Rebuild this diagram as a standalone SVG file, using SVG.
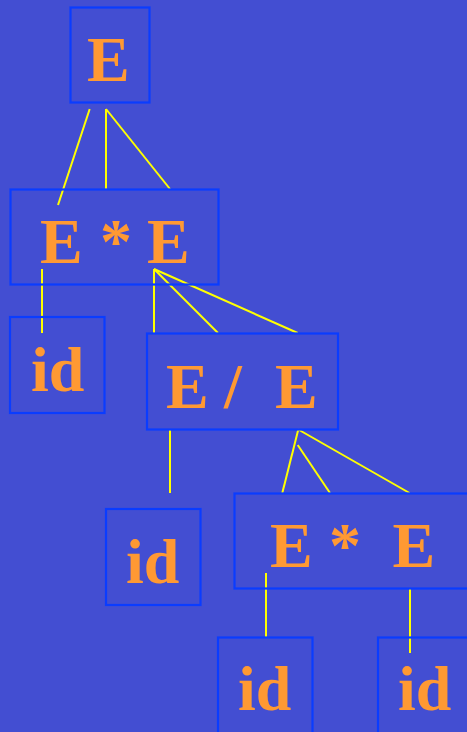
<svg xmlns="http://www.w3.org/2000/svg" width="467" height="732" viewBox="0 0 467 732">
  <style>
    .box { fill: none; stroke: #0A3CFF; stroke-width: 2.2; }
    .lbl { font-family: "Liberation Serif", "Times New Roman", serif; font-weight: bold; font-size: 64px; fill: #FF9933; }
    .edge { stroke: #FFFF00; stroke-width: 2; fill: none; }
  </style>
  <rect x="0" y="0" width="467" height="732" fill="#434ED2"/>

  <!-- parse-tree connectors -->
  <g id="connectors">
    <line class="edge" x1="89.7" y1="109" x2="58" y2="205"/>
    <line class="edge" x1="106" y1="109" x2="106" y2="189"/>
    <line class="edge" x1="106" y1="109" x2="170" y2="189"/>
    <line class="edge" x1="42" y1="269" x2="42" y2="333"/>
    <line class="edge" x1="154" y1="269" x2="154" y2="333"/>
    <line class="edge" x1="154" y1="269" x2="218" y2="333"/>
    <line class="edge" x1="154" y1="269" x2="297.7" y2="333"/>
    <line class="edge" x1="170" y1="429" x2="170" y2="493"/>
    <line class="edge" x1="298.3" y1="429.5" x2="282.3" y2="493"/>
    <line class="edge" x1="297.7" y1="445" x2="330" y2="493"/>
    <line class="edge" x1="298.3" y1="429.5" x2="409.5" y2="493"/>
    <line class="edge" x1="266" y1="573" x2="266" y2="637"/>
    <line class="edge" x1="410" y1="589" x2="410" y2="653"/>
  </g>

  <g id="root">
    <rect class="box" x="70.5" y="7.5" width="79" height="95"/>
    <text class="lbl" x="87" y="81">E</text>
  </g>

  <g id="mul1">
    <rect class="box" x="10.5" y="189.5" width="208" height="95"/>
    <text class="lbl" y="263"><tspan x="40">E</tspan><tspan x="100">*</tspan><tspan x="147">E</tspan></text>
  </g>

  <g id="id1">
    <rect class="box" x="10" y="317" width="94.5" height="96"/>
    <text class="lbl" x="31" y="391">id</text>
  </g>

  <g id="div">
    <rect class="box" x="147" y="333.5" width="191" height="96"/>
    <text class="lbl" y="407.5"><tspan x="166">E</tspan><tspan x="224">/</tspan><tspan x="275">E</tspan></text>
  </g>

  <g id="id2">
    <rect class="box" x="106" y="509" width="94.5" height="96"/>
    <text class="lbl" x="126" y="582.5">id</text>
  </g>

  <g id="mul2">
    <rect class="box" x="234.5" y="493.5" width="240" height="95"/>
    <text class="lbl" y="567"><tspan x="270">E</tspan><tspan x="329">*</tspan><tspan x="392.5">E</tspan></text>
  </g>

  <g id="id3">
    <rect class="box" x="218" y="637.5" width="94.5" height="100"/>
    <text class="lbl" x="238" y="710">id</text>
  </g>

  <g id="id4">
    <rect class="box" x="378" y="637.5" width="100" height="100"/>
    <text class="lbl" x="398" y="710">id</text>
  </g>
</svg>
